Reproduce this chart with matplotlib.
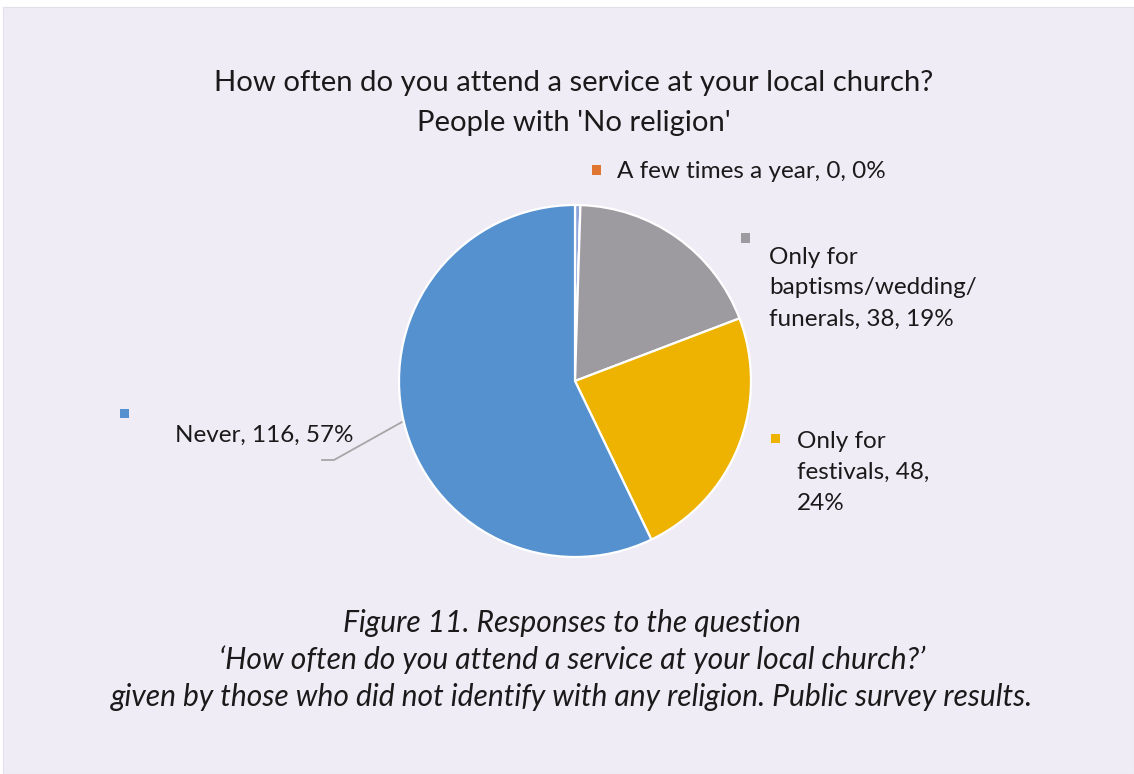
import matplotlib
matplotlib.use("Agg")
import matplotlib.pyplot as plt
from matplotlib.patches import Rectangle

plt.rcParams['font.family'] = ['Lato', 'DejaVu Sans']

# Survey responses (clockwise from 12 o'clock)
categories = ['', 'A few times a year', 'Only for baptisms/wedding/funerals',
              'Only for festivals', 'Never']
counts = [1, 0, 38, 48, 116]
percent_labels = ['', '0%', '19%', '24%', '57%']
colors = ['#8CA3DC', '#E07532', '#9E9BA0', '#EDB300', '#5591CF']

title_lines = ["How often do you attend a service at your local church?",
               "People with 'No religion'"]
caption_lines = ["Figure 11. Responses to the question",
                 "\u2018How often do you attend a service at your local church?\u2019",
                 "given by those who did not identify with any religion. Public survey results."]

W, H = 1134, 774
fig = plt.figure(figsize=(W / 100, H / 100), dpi=100)
fig.patch.set_facecolor('white')

# Lavender panel behind the chart
fig.patches.append(Rectangle((3 / W, 0), 1 - 3 / W, 1 - 7 / H, transform=fig.transFigure,
                             facecolor='#EFECF6', edgecolor='#E2DFEA', linewidth=0.8,
                             zorder=-5))


def fx(px):
    return px / W


def fy(py):
    return 1 - py / H


# Pie
cx, cy, r = 575, 381, 176
ax = fig.add_axes([fx(cx - r), fy(cy + r), 2 * r / W, 2 * r / H])
ax.set_zorder(2)
ax.set_facecolor('none')
ax.pie(counts, colors=colors, startangle=90, counterclock=False, radius=1,
       wedgeprops=dict(edgecolor='white', linewidth=1.6))
ax.set_xlim(-1, 1)
ax.set_ylim(-1, 1)
ax.axis('off')

txt = '#1A1A1A'
fs_label = 17.5

# Title
fig.text(fx(574), fy(83), title_lines[0], ha='center', va='center', fontsize=21.1, color=txt)
fig.text(fx(574), fy(123), title_lines[1], ha='center', va='center', fontsize=21.1, color=txt)

# Data labels with coloured key squares
def key(px, py, color):
    s = 9
    fig.patches.append(Rectangle((fx(px - s / 2), fy(py + s / 2)), s / W, s / H,
                                 transform=fig.transFigure, facecolor=color,
                                 edgecolor='none', zorder=3))


def label_block(px, py, lines, step=31):
    for i, line in enumerate(lines):
        fig.text(fx(px), fy(py + i * step), line, ha='left', va='center',
                 fontsize=fs_label, color=txt)


key(596, 170, colors[1])
label_block(617, 171, [f"{categories[1]}, {counts[1]}, {percent_labels[1]}"])

key(745, 238, colors[2])
label_block(769, 257, ["Only for", "baptisms/wedding/",
                       f"funerals, {counts[2]}, {percent_labels[2]}"])

key(775, 438, colors[3])
label_block(797, 441, ["Only for", f"festivals, {counts[3]},", percent_labels[3]])

key(124, 414, colors[4])
label_block(175, 435, [f"{categories[4]}, {counts[4]}, {percent_labels[4]}"])

# Leader line for the "Never" label
fig.add_artist(plt.Line2D([fx(402), fx(334), fx(322)], [fy(422), fy(460), fy(460)],
                          transform=fig.transFigure, color='#A6A6A6', linewidth=1.3))

# Caption
for i, line in enumerate(caption_lines):
    fig.text(fx(572), fy(623 + i * 37), line, ha='center', va='center',
             fontsize=21.6, style='italic', color=txt)

fig.savefig('out.png', dpi=100, facecolor=fig.get_facecolor())
